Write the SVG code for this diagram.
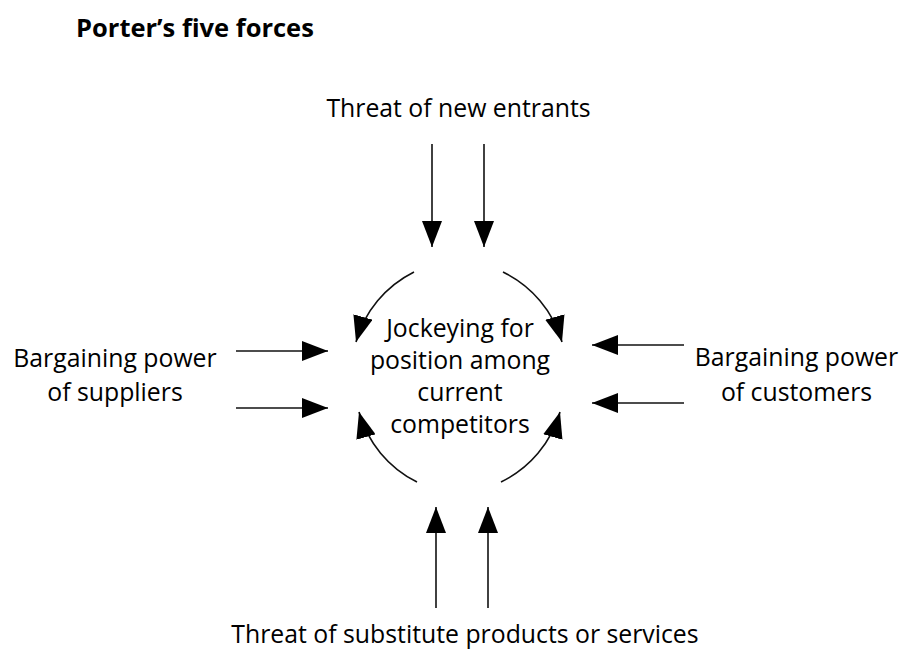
<svg xmlns="http://www.w3.org/2000/svg" width="903" height="654" viewBox="0 0 903 654">
<style>
text{font-family:"Open Sans","Noto Sans","Liberation Sans",sans-serif;font-size:24.8px;fill:#000;}
.t{text-anchor:middle;}
.title{font-weight:bold;font-size:25.5px;}
.c{fill:none;stroke:#111;stroke-width:1.6;marker-end:url(#ah);}
</style>
<defs>
<marker id="ah" markerUnits="userSpaceOnUse" markerWidth="26" markerHeight="20" viewBox="0 0 26 20" refX="26" refY="10" orient="auto">
<path d="M0,0 L26,10 L0,20 Z" fill="#000"/>
</marker>
</defs>
<rect width="903" height="654" fill="#fff"/>
<text class="title" x="76" y="37">Porter’s five forces</text>
<g id="center">
<text class="t" x="460" y="337">Jockeying for</text>
<text class="t" x="460" y="369">position among</text>
<text class="t" x="460" y="401">current</text>
<text class="t" x="460" y="433">competitors</text>
</g>
<g id="new-entrants"><text class="t" x="458.5" y="117">Threat of new entrants</text></g>
<g id="suppliers"><text class="t" x="115" y="367">Bargaining power</text><text class="t" x="115" y="401">of suppliers</text></g>
<g id="customers"><text class="t" x="796.5" y="366">Bargaining power</text><text class="t" x="796.5" y="401">of customers</text></g>
<g id="substitutes"><text class="t" x="465" y="643">Threat of substitute products or services</text></g>
<g id="connectors">
<path class="c" d="M432,144 L432,247"/>
<path class="c" d="M484,144 L484,247"/>
<path class="c" d="M436,608 L436,507"/>
<path class="c" d="M488,608 L488,507"/>
<path class="c" d="M236,351 L328,351"/>
<path class="c" d="M236,408 L328,408"/>
<path class="c" d="M684,345 L592,345"/>
<path class="c" d="M684,403 L592,403"/>
<path class="c" d="M414,272 A112,112 0 0 0 356,342"/>
<path class="c" d="M503,272 A112,112 0 0 1 562,342"/>
<path class="c" d="M417,482 A112,112 0 0 1 359,412"/>
<path class="c" d="M501,482 A112,112 0 0 0 560,412"/>
</g>
</svg>
